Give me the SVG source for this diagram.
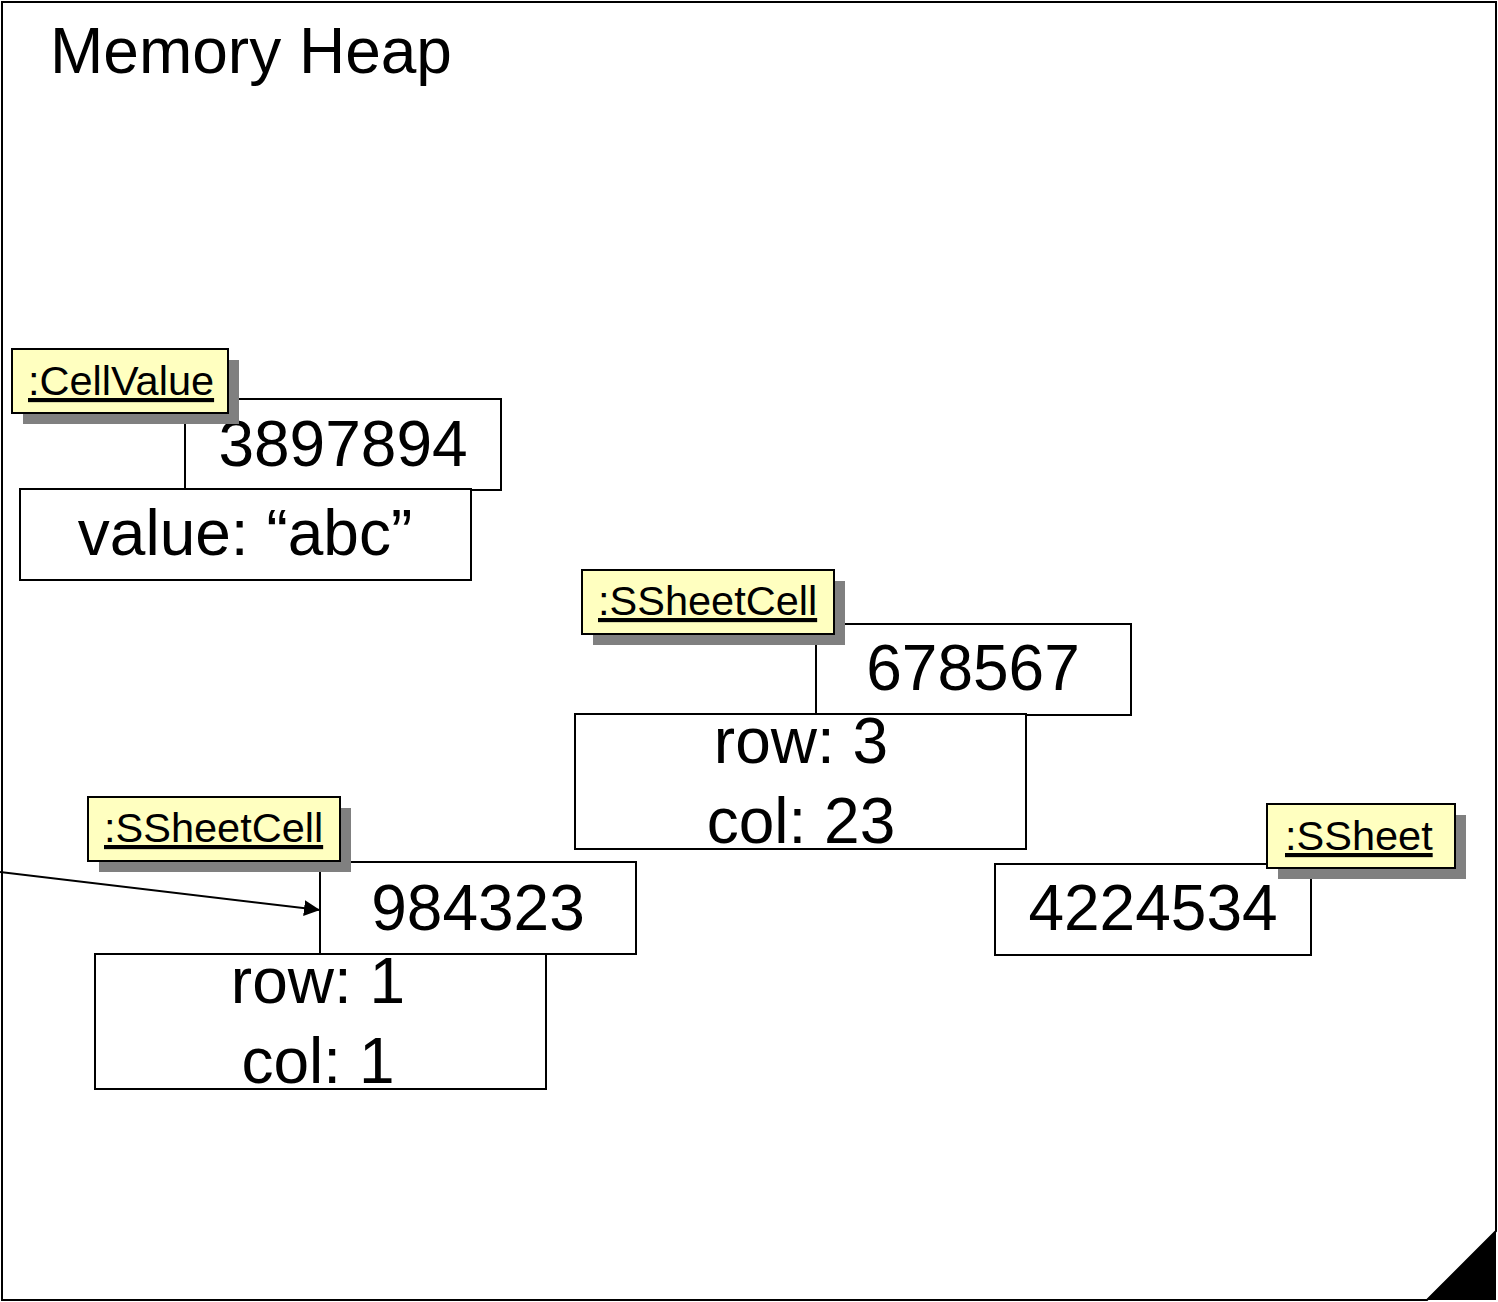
<svg xmlns="http://www.w3.org/2000/svg" width="1498" height="1302" viewBox="0 0 1498 1302">
<style>
.frame{fill:#fff;stroke:#000;stroke-width:2}
.box{fill:#fff;stroke:#000;stroke-width:2}
.shadow{fill:#808080}
.lbl{fill:#ffffc0;stroke:#000;stroke-width:2}
.big{font-family:"Liberation Sans",Arial,sans-serif;font-size:64px;fill:#000}
.mid{text-anchor:middle}
.lt{font-family:"Liberation Sans",Arial,sans-serif;font-size:41.5px;fill:#000;text-decoration:underline}
.conn{stroke:#000;stroke-width:2;fill:none}
</style>
<defs>
<marker id="arr" viewBox="0 0 10 10" refX="10" refY="5" markerWidth="16" markerHeight="16" markerUnits="userSpaceOnUse" orient="auto">
<path d="M0,0 L10,5 L0,10 z" fill="#000"/>
</marker>
</defs>
<g id="heap">
<polygon class="frame" points="2,2 1496,2 1496,1231 1427,1300 2,1300"/>
<polygon points="1496,1231 1496,1300 1427,1300" fill="#000"/>
<text class="big" x="50" y="73">Memory Heap</text>
</g>
<g id="cellvalue">
<rect class="box" x="185" y="399" width="316" height="91"/>
<text class="big mid" x="343" y="466">3897894</text>
<rect class="box" x="20" y="489" width="451" height="91"/>
<text class="big mid" x="245" y="555">value: “abc”</text>
<rect class="shadow" x="23" y="360" width="216" height="64"/>
<rect class="lbl" x="12" y="349" width="216" height="64"/>
<text class="lt" x="28" y="395">:CellValue</text>
</g>
<g id="ssheetcell1">
<rect class="box" x="816" y="624" width="315" height="91"/>
<text class="big mid" x="973" y="690">678567</text>
<rect class="box" x="575" y="714" width="451" height="135"/>
<text class="big mid" x="801" y="763">row: 3</text>
<text class="big mid" x="801" y="843">col: 23</text>
<rect class="shadow" x="593" y="581" width="252" height="64"/>
<rect class="lbl" x="582" y="570" width="252" height="64"/>
<text class="lt" x="598" y="615">:SSheetCell</text>
</g>
<g id="ssheetcell2">
<rect class="box" x="320" y="862" width="316" height="92"/>
<text class="big mid" x="478" y="930">984323</text>
<rect class="box" x="95" y="954" width="451" height="135"/>
<text class="big mid" x="318" y="1003">row: 1</text>
<text class="big mid" x="318" y="1083">col: 1</text>
<rect class="shadow" x="99" y="808" width="252" height="64"/>
<rect class="lbl" x="88" y="797" width="252" height="64"/>
<text class="lt" x="104" y="842">:SSheetCell</text>
</g>
<g id="ssheet">
<rect class="box" x="995" y="864" width="316" height="91"/>
<text class="big mid" x="1153" y="930">4224534</text>
<rect class="shadow" x="1278" y="815" width="188" height="64"/>
<rect class="lbl" x="1267" y="804" width="188" height="64"/>
<text class="lt" x="1285" y="850">:SSheet</text>
</g>
<g id="connectors">
<line class="conn" x1="0" y1="872" x2="320" y2="910" marker-end="url(#arr)"/>
</g>
</svg>
